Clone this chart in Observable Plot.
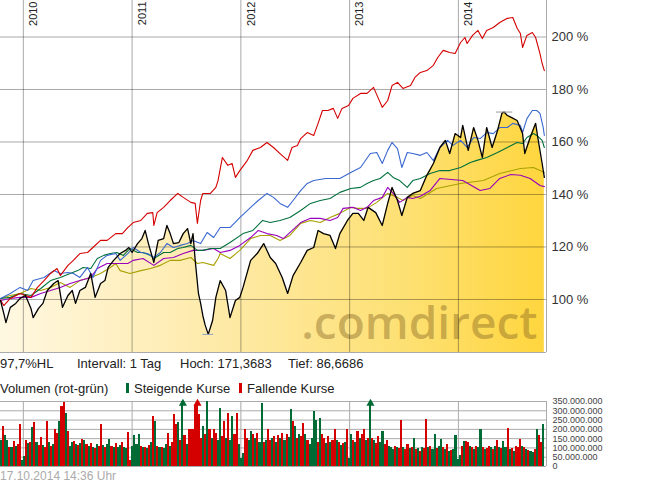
<!DOCTYPE html>
<html><head><meta charset="utf-8">
<script src="https://cdn.jsdelivr.net/npm/d3@7"></script>
<script src="https://cdn.jsdelivr.net/npm/@observablehq/plot@0.6"></script>
<style>
body{margin:0;background:#fff;font-family:"Liberation Sans",Arial,sans-serif;}
#wrap{position:relative;width:645px;height:483px;overflow:hidden;background:#fff;}
.abs{position:absolute;white-space:nowrap;}
.t13{font-size:13px;line-height:15px;color:#222;}
.sw{position:absolute;width:3px;height:10px;}
#main{position:absolute;left:0;top:0;}
#vol{position:absolute;left:0;top:395px;}
</style></head>
<body><div id="wrap">
<div id="main"></div>
<div class="abs t13" style="left:0;top:356px">97,7%HL</div>
<div class="abs t13" style="left:77px;top:356px">Intervall: 1 Tag</div>
<div class="abs t13" style="left:180px;top:356px">Hoch: 171,3683</div>
<div class="abs t13" style="left:288px;top:356px">Tief: 86,6686</div>
<div class="abs t13" style="left:0;top:381px">Volumen (rot-grün)</div>
<div class="sw" style="left:126px;top:383px;background:#006b35"></div>
<div class="abs t13" style="left:134px;top:381px">Steigende Kurse</div>
<div class="sw" style="left:239px;top:383px;background:#d40000"></div>
<div class="abs t13" style="left:247px;top:381px">Fallende Kurse</div>
<div id="vol"></div>
<div class="abs" style="left:0;top:469px;font-size:12px;line-height:14px;color:#aaa">17.10.2014 14:36 Uhr</div>
</div>
<script>
// time in decimal years, values in percent of start
const xDomain = [2009.79, 2014.81];
const yDomain = [79.8, 213.9];
const years = [2010, 2011, 2012, 2013, 2014];
const pctTicks = [100, 120, 140, 160, 180, 200];

const blackSeries = [[2009.79,99.6],[2009.82,94.7],[2009.84,91.2],[2009.88,97.0],[2009.93,98.5],[2009.97,100.4],[2010.02,101.5],[2010.07,96.6],[2010.09,93.1],[2010.14,96.6],[2010.18,98.5],[2010.22,103.4],[2010.28,106.1],[2010.32,107.2],[2010.36,97.0],[2010.41,101.5],[2010.45,103.4],[2010.48,98.5],[2010.52,103.4],[2010.57,104.6],[2010.62,109.9],[2010.66,100.8],[2010.71,106.1],[2010.75,107.2],[2010.78,112.2],[2010.83,114.9],[2010.89,117.5],[2010.94,118.7],[2010.97,119.8],[2011.00,117.9],[2011.05,121.3],[2011.09,123.2],[2011.12,126.3],[2011.15,121.3],[2011.20,114.1],[2011.24,122.5],[2011.29,123.2],[2011.32,128.2],[2011.35,125.1],[2011.38,121.3],[2011.43,121.7],[2011.47,125.1],[2011.51,127.0],[2011.54,121.3],[2011.56,125.1],[2011.58,114.9],[2011.61,102.3],[2011.63,98.5],[2011.65,93.9],[2011.67,90.5],[2011.70,86.7],[2011.74,92.0],[2011.77,100.8],[2011.81,107.2],[2011.86,103.4],[2011.90,93.1],[2011.95,99.6],[2011.99,100.8],[2012.02,104.6],[2012.09,114.9],[2012.15,117.5],[2012.21,121.3],[2012.27,116.0],[2012.32,113.7],[2012.38,108.4],[2012.43,102.3],[2012.48,109.1],[2012.55,114.1],[2012.61,118.7],[2012.67,119.8],[2012.71,126.3],[2012.76,125.1],[2012.82,124.4],[2012.87,119.4],[2012.91,125.1],[2012.98,130.1],[2013.03,132.8],[2013.08,132.8],[2013.13,130.1],[2013.17,135.1],[2013.24,133.1],[2013.30,128.2],[2013.35,136.6],[2013.39,142.7],[2013.44,137.7],[2013.48,132.0],[2013.53,138.9],[2013.58,140.4],[2013.65,141.5],[2013.71,147.3],[2013.77,151.8],[2013.83,157.9],[2013.88,160.6],[2013.92,155.6],[2013.97,163.2],[2014.02,161.7],[2014.04,166.3],[2014.09,156.8],[2014.14,165.5],[2014.18,160.6],[2014.22,154.1],[2014.26,165.5],[2014.31,157.9],[2014.36,164.4],[2014.40,170.9],[2014.42,171.4],[2014.45,170.1],[2014.49,169.3],[2014.54,168.2],[2014.59,163.2],[2014.61,155.6],[2014.66,161.7],[2014.71,167.1],[2014.73,161.7],[2014.77,151.8],[2014.79,146.5]];

const redSeries = [[2009.79,99.8],[2009.82,97.7],[2009.88,100.4],[2009.97,102.3],[2010.07,100.8],[2010.13,104.6],[2010.19,107.2],[2010.25,109.9],[2010.31,111.8],[2010.34,109.1],[2010.41,113.0],[2010.46,114.9],[2010.52,117.5],[2010.59,117.9],[2010.64,119.8],[2010.71,122.5],[2010.77,122.5],[2010.85,125.1],[2010.91,125.1],[2010.96,127.4],[2011.01,129.3],[2011.08,130.1],[2011.14,132.8],[2011.19,133.1],[2011.20,128.2],[2011.23,133.1],[2011.29,135.1],[2011.35,137.7],[2011.42,140.4],[2011.47,138.9],[2011.54,137.0],[2011.58,136.6],[2011.60,129.0],[2011.63,137.7],[2011.65,140.4],[2011.72,140.4],[2011.77,142.7],[2011.79,145.3],[2011.83,154.1],[2011.88,151.1],[2011.92,151.8],[2011.95,146.5],[2011.99,149.1],[2012.06,153.0],[2012.11,156.8],[2012.18,157.9],[2012.24,159.8],[2012.30,157.9],[2012.36,155.6],[2012.43,153.0],[2012.47,157.9],[2012.52,158.7],[2012.55,161.3],[2012.61,163.6],[2012.67,162.5],[2012.71,167.1],[2012.75,172.0],[2012.80,172.0],[2012.85,172.8],[2012.89,169.0],[2012.93,172.8],[2012.99,173.9],[2013.03,176.6],[2013.10,178.5],[2013.16,178.5],[2013.22,180.8],[2013.26,177.0],[2013.30,173.2],[2013.35,175.8],[2013.39,181.5],[2013.44,182.7],[2013.49,180.4],[2013.56,181.5],[2013.60,184.6],[2013.65,186.5],[2013.71,187.2],[2013.77,189.2],[2013.81,192.2],[2013.86,194.9],[2013.92,194.1],[2013.97,193.7],[2014.02,197.9],[2014.06,199.8],[2014.08,197.5],[2014.13,200.6],[2014.18,202.5],[2014.22,199.4],[2014.26,202.5],[2014.32,203.6],[2014.38,205.5],[2014.45,207.1],[2014.50,207.4],[2014.54,203.3],[2014.57,201.3],[2014.59,196.0],[2014.63,200.6],[2014.68,201.7],[2014.71,199.8],[2014.75,193.7],[2014.77,189.9],[2014.79,187.2]];

const blueSeries = [[2009.79,100.4],[2009.88,102.3],[2009.97,104.6],[2010.04,103.4],[2010.09,107.2],[2010.19,108.4],[2010.28,111.0],[2010.34,109.9],[2010.41,110.3],[2010.46,109.9],[2010.52,108.4],[2010.59,112.2],[2010.64,108.4],[2010.71,114.9],[2010.77,116.8],[2010.85,117.5],[2010.89,114.9],[2010.96,117.5],[2011.01,119.8],[2011.08,117.9],[2011.14,117.5],[2011.20,116.0],[2011.26,117.9],[2011.32,121.3],[2011.38,119.8],[2011.44,120.6],[2011.51,121.3],[2011.56,122.5],[2011.63,121.3],[2011.69,125.5],[2011.75,123.6],[2011.81,127.4],[2011.90,127.4],[2011.99,131.2],[2012.09,135.1],[2012.16,137.7],[2012.24,140.4],[2012.30,138.9],[2012.36,136.6],[2012.43,135.1],[2012.48,137.7],[2012.55,141.5],[2012.61,144.2],[2012.67,145.3],[2012.78,146.1],[2012.91,146.1],[2013.01,148.4],[2013.10,150.3],[2013.19,155.6],[2013.25,156.0],[2013.30,151.8],[2013.35,156.8],[2013.39,159.8],[2013.44,157.5],[2013.48,150.3],[2013.53,156.0],[2013.58,155.6],[2013.65,154.9],[2013.71,156.0],[2013.77,152.9],[2013.83,157.9],[2013.90,160.6],[2013.95,158.7],[2014.02,160.6],[2014.08,157.9],[2014.14,161.7],[2014.20,161.3],[2014.26,163.6],[2014.32,163.2],[2014.38,165.5],[2014.45,165.5],[2014.50,167.1],[2014.57,166.3],[2014.59,163.6],[2014.63,168.9],[2014.68,172.0],[2014.72,172.0],[2014.75,170.9],[2014.78,165.5],[2014.79,162.5]];

const greenSeries = [[2009.79,100.4],[2009.88,100.8],[2009.97,102.3],[2010.07,101.5],[2010.16,104.2],[2010.25,107.2],[2010.34,108.4],[2010.43,109.9],[2010.50,111.0],[2010.55,112.2],[2010.62,111.8],[2010.68,115.6],[2010.74,116.8],[2010.80,117.5],[2010.86,117.9],[2010.92,116.8],[2010.98,119.4],[2011.05,117.9],[2011.10,117.9],[2011.17,116.8],[2011.20,115.6],[2011.29,117.9],[2011.35,117.9],[2011.42,119.4],[2011.47,119.8],[2011.54,120.6],[2011.60,118.7],[2011.65,118.7],[2011.72,119.4],[2011.81,119.4],[2011.90,121.7],[2012.02,125.1],[2012.11,126.3],[2012.20,130.1],[2012.27,129.3],[2012.36,130.1],[2012.45,131.2],[2012.55,133.9],[2012.64,136.6],[2012.73,137.7],[2012.82,138.5],[2012.91,140.8],[2013.01,142.3],[2013.10,142.7],[2013.16,144.2],[2013.22,145.3],[2013.28,146.1],[2013.35,148.4],[2013.40,146.5],[2013.46,145.3],[2013.53,142.7],[2013.58,145.3],[2013.65,146.1],[2013.74,148.0],[2013.83,149.1],[2013.92,149.1],[2014.02,150.3],[2014.11,152.2],[2014.17,153.0],[2014.26,154.1],[2014.36,156.0],[2014.45,157.9],[2014.54,159.8],[2014.59,159.4],[2014.63,161.7],[2014.69,163.2],[2014.72,162.5],[2014.77,160.6],[2014.79,157.9]];

const purpleSeries = [[2009.79,99.6],[2009.88,100.4],[2009.97,100.8],[2010.07,100.8],[2010.16,102.3],[2010.25,103.4],[2010.34,104.6],[2010.43,106.1],[2010.52,107.2],[2010.62,108.4],[2010.68,111.8],[2010.77,113.7],[2010.86,113.7],[2010.96,113.7],[2011.01,114.9],[2011.10,115.6],[2011.20,113.0],[2011.29,115.6],[2011.38,116.0],[2011.47,117.5],[2011.56,118.7],[2011.65,118.7],[2011.75,119.4],[2011.81,117.9],[2011.90,118.7],[2011.99,120.6],[2012.09,123.6],[2012.16,126.3],[2012.24,125.1],[2012.33,124.4],[2012.39,123.2],[2012.45,125.5],[2012.55,129.3],[2012.64,130.9],[2012.73,130.9],[2012.82,130.1],[2012.89,131.2],[2012.94,134.7],[2013.03,135.1],[2013.10,133.9],[2013.16,135.1],[2013.22,137.7],[2013.30,138.9],[2013.35,142.7],[2013.40,140.4],[2013.46,137.0],[2013.53,138.9],[2013.58,138.5],[2013.65,139.3],[2013.74,141.5],[2013.83,146.1],[2014.04,145.3],[2014.20,141.5],[2014.29,142.3],[2014.38,146.1],[2014.48,147.6],[2014.57,147.3],[2014.66,146.1],[2014.75,143.4],[2014.79,143.0]];

const oliveSeries = [[2009.79,100.4],[2009.88,101.5],[2009.97,102.3],[2010.07,104.2],[2010.16,103.4],[2010.25,104.6],[2010.34,106.5],[2010.43,104.6],[2010.52,107.2],[2010.62,108.4],[2010.71,109.9],[2010.80,112.2],[2010.85,113.7],[2010.89,111.0],[2010.98,109.9],[2011.08,111.0],[2011.17,111.8],[2011.26,113.0],[2011.35,114.9],[2011.44,114.9],[2011.54,116.0],[2011.60,113.7],[2011.65,114.1],[2011.75,113.0],[2011.79,115.6],[2011.81,117.5],[2011.90,115.6],[2011.99,118.7],[2012.09,123.2],[2012.18,124.4],[2012.27,124.4],[2012.36,122.5],[2012.45,124.4],[2012.55,129.0],[2012.64,130.1],[2012.73,129.3],[2012.82,131.2],[2012.91,132.8],[2013.01,135.1],[2013.07,134.7],[2013.16,134.7],[2013.25,137.0],[2013.35,140.4],[2013.44,138.9],[2013.49,137.7],[2013.58,139.6],[2013.65,138.5],[2013.80,142.3],[2014.02,144.2],[2014.23,145.3],[2014.38,148.0],[2014.57,149.9],[2014.69,150.3],[2014.79,148.4]];

// weekly volume, millions; g = steigend, r = fallend
const volStart = 2009.79;
const volM = [140,215,165,140,105,100,135,110,120,224, 30,55,140,125,130,210,237,130,115,158, 115,100,242,130,110,120,201,180,240,323, 345,285,188,110,130,135,120,115,125,144, 140,120,110,125,100,95,120,110,224,115, 100,120,147,110,100,125,105,115,130,100, 95,185,35,110,165,120,170,110,100,105, 95,115,130,270,242,110,100,105,95,120, 180,110,130,278,224,237,140,360,165,120, 197,200,200,330,360,278,150,215,170,350, 197,150,200,180,140,314,160,242,150,287, 140,269,170,287,120,45,70,197,150,140, 190,170,150,180,130,341,130,140,197,140, 150,160,130,165,150,180,140,170,155,309, 242,215,150,170,160,233,175,140,120,150, 296,250,130,260,170,150,125,160,130,140, 201,140,130,115,125,130,201,45,170,140, 130,188,150,170,197,140,150,360,153,140, 125,160,130,188,120,140,110,100,90,110, 100,95,248,100,90,120,95,100,153,90, 95,80,100,95,255,100,110,90,170,95, 110,147,100,90,120,80,85,90,165,40, 60,110,135,135,129,110,100,90,110,100, 201,100,90,95,110,100,90,110,140,100, 95,135,100,206,90,95,80,110,100,147, 110,100,90,85,80,75,90,201,165,130,224];
const volDir = ("grggrgrgrr"+"ggrgrgrgrr"+"grrgrgrrgr"+"rgrggrgrgr"+"grgrgrgrrg"+"rggrgrggrg"+"grrggggrgr"+"grgrgrgrgg"+"rgrrrgrgrg"+"rrrrrrrgrg"+"rgrrggrrgr"+"ggrrgggrrg"+"grgrggrgrr"+"grgrgrgrgg"+"rgrgrrgrgg"+"ggrgrrgrgr"+"rgrgrgrggr"+"grgrrgrgrg"+"rrggrrgggr"+"grrgrrgrgr"+"grgrrgrggr"+"ggrgrgrggg"+"grgrrgrgrg"+"grgrrgrgrg"+"rggrgrgrrr"+"grgrggrgrrg").split("");
const volTicks = [0, 50e6, 100e6, 150e6, 200e6, 250e6, 300e6, 350e6];

const gridC = "#000", gridO = 0.34, borderC = "#aaa";
const toRows = s => s.map(([t, v]) => ({t, v}));
const black = toRows(blackSeries);
const others = [
  {rows: toRows(oliveSeries), c: "#a8a000"},
  {rows: toRows(purpleSeries), c: "#9900bb"},
  {rows: toRows(greenSeries), c: "#00703c"},
  {rows: toRows(blueSeries), c: "#3a68d0"},
  {rows: toRows(redSeries), c: "#d40000"}
];
const hi = d3.greatest(black, d => d.v), lo = d3.least(black, d => d.v);

const main = Plot.plot({
  width: 645, height: 352, marginLeft: 0, marginTop: 0, marginRight: 99, marginBottom: 0,
  style: {fontFamily: "Liberation Sans, Arial, sans-serif", fontSize: "13px", color: "#333", background: "transparent", overflow: "visible"},
  x: {domain: xDomain, axis: null},
  y: {domain: yDomain, axis: "right", ticks: pctTicks, tickSize: 0, tickPadding: 5, tickFormat: d => d + " %", label: null},
  marks: [
    Plot.areaY(black, {x: "t", y1: () => yDomain[0], y2: "v", fill: "url(#gold)"}),
    Plot.text([".comdirect"], {frameAnchor: "bottom-right", textAnchor: "end", dx: -9, dy: -14, fontSize: 46, fontWeight: 600, fontFamily: "Open Sans", fill: "#806020", fillOpacity: 0.42}),
    Plot.ruleY(pctTicks, {stroke: gridC, strokeOpacity: gridO}),
    Plot.ruleX(years, {stroke: gridC, strokeOpacity: gridO}),
    Plot.ruleX([xDomain[1]], {stroke: borderC}),
    Plot.ruleY([yDomain[0]], {stroke: borderC}),
    Plot.text(years, {x: d => d, text: d => String(d), frameAnchor: "top", rotate: -90, textAnchor: "end", dx: 6, dy: 1, fontSize: 11, fill: "#222"}),
    ...others.map(o => Plot.line(o.rows, {x: "t", y: "v", stroke: o.c, strokeWidth: 1.1})),
    Plot.line(black, {x: "t", y: "v", stroke: "#000", strokeWidth: 1.3}),
    Plot.ruleY([hi], {y: "v", x1: d => d.t - 0.07, x2: d => d.t + 0.08, stroke: "#999"}),
    Plot.ruleY([lo], {y: "v", x1: d => d.t - 0.05, x2: d => d.t + 0.05, stroke: "#8fa0c0"})
  ]
});
const defs = d3.select(main).insert("defs", ":first-child");
const g = defs.append("linearGradient").attr("id", "gold").attr("x1", 0).attr("x2", 1).attr("y1", 0).attr("y2", 0);
[[0, "#fff8e2"], [0.4, "#feeaa8"], [0.75, "#fde072"], [1, "#ffd63e"]].forEach(([o, c]) => g.append("stop").attr("offset", o).attr("stop-color", c));
document.getElementById("main").appendChild(main);

const weekLen = 7 / 365.25;
const weeks = volM.map((v, i) => ({t0: volStart + i * weekLen, t1: volStart + (i + 1) * weekLen, v: Math.min(v, 350) * 1e6, up: volDir[i] === "g", over: v > 350}));
const deFmt = d => d3.format(",")(d).replace(/,/g, ".");
const vol = Plot.plot({
  width: 645, height: 77, marginLeft: 0, marginTop: 6, marginRight: 99, marginBottom: 6,
  style: {fontFamily: "Liberation Sans, Arial, sans-serif", fontSize: "9px", color: "#444", background: "transparent"},
  x: {domain: xDomain, axis: null},
  y: {domain: [0, 350e6], axis: "right", ticks: volTicks, tickSize: 0, tickPadding: 6, tickFormat: deFmt, label: null},
  marks: [
    Plot.ruleY(volTicks, {stroke: borderC}),
    Plot.ruleX(years, {stroke: borderC}),
    Plot.rect(weeks, {x1: "t0", x2: "t1", y1: () => 0, y2: "v", fill: d => d.up ? "#006b35" : "#d40000", shapeRendering: "crispEdges"}),
    Plot.dot(weeks.filter(d => d.over), {x: d => (d.t0 + d.t1) / 2, y: "v", symbol: "triangle", r: 3, fill: d => d.up ? "#006b35" : "#d40000", dy: 2}),
    Plot.ruleX([xDomain[1]], {stroke: borderC}),
    Plot.ruleY([0], {stroke: borderC})
  ]
});
document.getElementById("vol").appendChild(vol);
</script>
</body></html>
